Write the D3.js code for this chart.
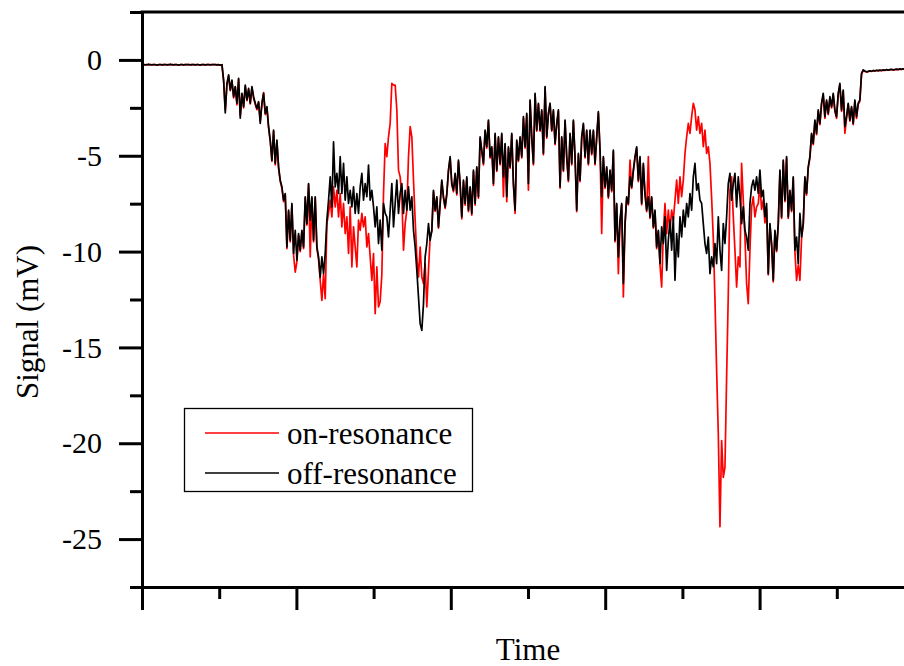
<!DOCTYPE html>
<html>
<head>
<meta charset="utf-8">
<script src="https://cdn.jsdelivr.net/npm/d3@7"></script>
<style>
  html, body { margin: 0; padding: 0; background: #fff; }
  svg { display: block; }
  svg text { font-family: "Liberation Serif", "Times New Roman", "DejaVu Serif", serif; fill: #000; }
</style>
</head>
<body>
<svg id="chart" width="904" height="666"></svg>
<script>
// ---- data (uniformly sampled signal, x = sample index) ----
const seriesNames = ["on-resonance", "off-resonance"];
const seriesColors = ["#ff0000", "#000000"];

const offResonance = [
-0.25,-0.24,-0.26,-0.25,-0.23,-0.25,-0.26,-0.24,-0.25,-0.27,
-0.25,-0.24,-0.26,-0.25,-0.24,-0.26,-0.25,-0.23,-0.25,-0.26,
-0.24,-0.25,-0.27,-0.25,-0.24,-0.26,-0.25,-0.24,-0.25,-0.26,
-0.25,-0.24,-0.26,-0.25,-0.25,-0.27,-0.24,-0.25,-0.26,-0.25,
-0.24,-0.26,-0.25,-0.25,-0.24,-0.26,-0.25,-0.27,-0.25,-1.05,
-2.77,-1.22,-0.78,-1.57,-1.05,-1.92,-1.39,-2.26,-0.96,-3.04,
-1.74,-2.44,-1.31,-2.09,-1.48,-2.26,-1.39,-1.92,-2.26,-2.53,
-2.18,-3.31,-2.26,-1.74,-2.79,-2.44,-3.48,-4.18,-5.23,-3.66,
-5.40,-4.18,-5.58,-6.27,-6.62,-7.32,-6.97,-9.76,-7.84,-9.41,
-7.49,-10.10,-8.89,-10.45,-9.06,-9.93,-8.89,-9.76,-7.14,-8.54,
-6.45,-8.36,-7.14,-9.41,-7.14,-9.76,-10.28,-11.33,-10.28,-11.15,
-10.10,-8.36,-7.32,-6.10,-7.67,-4.27,-6.62,-5.92,-6.97,-5.05,
-6.97,-5.40,-7.32,-6.10,-7.49,-6.80,-7.67,-6.62,-8.01,-6.97,
-8.01,-6.62,-5.92,-7.32,-6.45,-7.14,-5.49,-7.32,-6.80,-7.67,
-8.71,-7.67,-9.58,-8.36,-9.93,-7.49,-8.01,-8.19,-9.24,-7.84,
-6.45,-8.71,-7.49,-6.27,-8.01,-6.97,-6.45,-8.01,-6.80,-7.84,
-6.62,-7.84,-7.14,-8.89,-9.76,-10.98,-12.37,-13.76,-14.11,-12.72,
-10.28,-9.58,-8.54,-9.41,-8.89,-6.80,-7.84,-7.14,-8.71,-7.49,
-6.27,-7.14,-7.67,-6.97,-5.75,-5.05,-6.45,-6.80,-5.92,-6.97,
-5.23,-6.45,-8.19,-6.27,-7.49,-6.10,-7.84,-6.62,-8.01,-5.75,
-7.49,-5.58,-7.14,-4.01,-4.70,-5.40,-3.66,-4.53,-3.14,-5.05,
-4.53,-6.45,-3.83,-5.75,-4.01,-5.40,-3.83,-6.10,-4.36,-7.14,
-4.53,-5.58,-3.83,-6.45,-7.84,-4.18,-5.23,-4.01,-5.05,-2.96,
-4.53,-2.79,-6.45,-2.09,-4.01,-5.40,-1.74,-3.66,-2.26,-3.66,
-2.61,-4.88,-1.39,-4.01,-2.79,-2.26,-3.66,-2.61,-4.36,-3.31,
-2.61,-6.62,-4.01,-5.75,-3.14,-5.05,-6.27,-3.83,-5.40,-3.14,
-5.05,-7.84,-4.88,-6.27,-4.01,-3.31,-5.05,-3.66,-5.40,-3.66,
-4.88,-3.66,-5.40,-4.01,-2.70,-4.70,-7.14,-5.05,-6.62,-5.58,
-7.14,-5.75,-6.80,-4.70,-9.41,-7.49,-10.28,-8.36,-7.49,-11.67,
-8.54,-7.14,-7.49,-6.10,-6.62,-5.75,-5.05,-4.53,-6.27,-5.05,
-7.49,-5.40,-6.97,-7.84,-7.14,-8.19,-7.14,-8.71,-7.84,-9.76,
-8.89,-10.63,-8.71,-9.58,-8.19,-10.98,-9.41,-8.36,-9.93,-8.19,
-11.50,-9.06,-10.28,-8.19,-9.24,-7.84,-8.71,-7.49,-8.19,-6.97,
-7.84,-6.10,-5.40,-6.80,-6.45,-7.32,-7.49,-8.54,-9.58,-10.10,
-9.24,-11.15,-10.28,-10.80,-9.58,-10.63,-8.19,-9.93,-10.98,-8.54,
-9.58,-8.19,-6.45,-5.92,-7.32,-6.45,-5.92,-7.67,-6.10,-7.14,
-8.54,-7.67,-8.89,-9.24,-9.93,-7.49,-6.62,-6.27,-6.80,-6.10,
-6.97,-5.75,-7.14,-6.80,-8.19,-7.49,-11.15,-8.54,-9.58,-11.50,
-8.89,-9.93,-8.54,-5.75,-8.19,-5.23,-7.32,-5.05,-8.19,-6.80,
-7.84,-6.10,-9.93,-9.24,-10.63,-8.01,-9.24,-8.54,-6.10,-6.97,
-5.58,-5.05,-3.83,-4.36,-3.14,-3.83,-2.61,-3.31,-2.26,-1.74,
-2.96,-2.09,-2.79,-1.92,-2.44,-1.74,-2.61,-2.96,-1.74,-1.22,
-2.61,-1.57,-3.48,-2.96,-2.26,-3.14,-2.44,-3.31,-2.09,-2.96,
-2.26,-2.09,-0.70,-0.52,-0.58,-0.62,-0.60,-0.57,-0.59,-0.55,
-0.57,-0.54,-0.56,-0.53,-0.55,-0.52,-0.54,-0.50,-0.53,-0.51,
-0.49,-0.52,-0.50,-0.48,-0.50,-0.47,-0.49,-0.46,-0.48,-0.45,
-0.47,-0.44,-0.46,-0.45
];

const onResonance = [
-0.25,-0.24,-0.26,-0.25,-0.23,-0.25,-0.26,-0.24,-0.25,-0.27,
-0.25,-0.24,-0.26,-0.25,-0.24,-0.26,-0.25,-0.23,-0.25,-0.26,
-0.24,-0.25,-0.27,-0.25,-0.24,-0.26,-0.25,-0.24,-0.25,-0.26,
-0.25,-0.24,-0.26,-0.25,-0.25,-0.27,-0.24,-0.25,-0.26,-0.25,
-0.24,-0.26,-0.25,-0.25,-0.24,-0.26,-0.25,-0.27,-0.25,-1.10,
-2.60,-1.30,-0.85,-1.60,-1.10,-1.98,-1.42,-2.35,-1.02,-2.90,
-1.80,-2.50,-1.36,-2.12,-1.55,-2.30,-1.45,-2.00,-2.32,-2.60,
-2.22,-3.20,-2.30,-1.70,-2.85,-2.50,-3.55,-4.25,-5.30,-3.72,
-5.48,-4.25,-5.66,-6.34,-6.70,-7.40,-7.05,-9.85,-7.90,-9.50,
-7.56,-10.18,-11.07,-10.52,-9.15,-10.00,-8.95,-9.85,-7.20,-8.62,
-6.52,-10.28,-7.22,-9.50,-7.20,-9.85,-10.40,-11.50,-12.55,-11.20,
-12.46,-8.54,-8.01,-7.32,-8.19,-6.62,-7.67,-6.80,-8.19,-6.97,
-8.71,-7.49,-9.06,-8.19,-10.10,-7.67,-10.80,-8.71,-9.76,-10.80,
-8.36,-8.89,-8.01,-8.71,-8.19,-9.76,-9.06,-10.28,-11.50,-10.10,
-13.24,-10.80,-12.89,-12.60,-11.20,-7.00,-4.36,-5.05,-4.01,-3.31,
-1.22,-1.31,-1.31,-2.61,-5.75,-6.10,-7.14,-9.93,-8.54,-7.84,
-5.05,-3.48,-4.01,-6.27,-8.36,-10.28,-11.33,-9.76,-11.33,-11.67,
-10.63,-12.89,-10.98,-9.24,-8.95,-6.88,-7.90,-7.20,-8.78,-7.55,
-6.33,-7.20,-7.75,-7.05,-5.82,-5.12,-6.52,-6.88,-6.00,-7.05,
-5.30,-6.52,-8.30,-6.35,-7.58,-6.18,-7.92,-6.70,-8.10,-5.82,
-7.58,-5.65,-7.22,-4.10,-4.78,-5.48,-3.72,-4.60,-3.20,-5.12,
-4.60,-6.55,-3.90,-5.82,-4.08,-5.48,-3.90,-7.14,-4.42,-7.40,
-4.60,-5.65,-3.90,-6.52,-8.01,-4.25,-5.30,-4.08,-5.12,-3.05,
-4.60,-2.86,-6.80,-2.16,-4.08,-5.48,-1.82,-3.72,-2.32,-3.72,
-2.68,-4.95,-1.46,-4.08,-2.86,-2.32,-3.72,-2.68,-4.42,-3.38,
-2.68,-6.70,-4.08,-5.82,-3.20,-5.12,-6.35,-3.90,-5.48,-3.20,
-5.12,-7.92,-4.95,-6.35,-4.08,-3.38,-5.12,-3.72,-5.48,-3.72,
-4.95,-3.72,-5.48,-4.08,-2.78,-4.78,-9.06,-5.12,-6.70,-5.65,
-7.22,-5.82,-6.88,-4.78,-9.50,-7.56,-11.15,-8.45,-7.56,-12.37,
-8.62,-7.22,-7.56,-5.23,-6.70,-5.82,-5.12,-4.60,-6.35,-5.12,
-7.56,-5.48,-7.05,-7.92,-5.05,-8.27,-7.22,-8.78,-7.92,-9.85,
-8.95,-10.70,-11.85,-9.00,-7.49,-9.06,-7.84,-8.89,-7.84,-8.36,
-7.32,-6.27,-7.49,-6.10,-7.14,-6.27,-4.88,-4.01,-3.31,-3.83,
-2.96,-2.26,-2.61,-3.66,-2.96,-3.83,-3.31,-4.53,-3.66,-4.88,
-4.53,-5.40,-7.20,-9.30,-12.50,-16.20,-19.50,-24.35,-19.86,-21.78,
-21.26,-16.55,-12.20,-6.80,-6.10,-8.19,-9.93,-11.85,-10.28,-10.80,
-5.40,-7.32,-9.24,-11.67,-12.72,-9.93,-7.67,-7.14,-8.19,-7.67,
-7.50,-6.50,-7.80,-7.30,-8.50,-7.80,-11.22,-8.62,-9.66,-11.58,
-8.96,-10.00,-8.62,-5.82,-8.27,-5.30,-7.40,-5.12,-8.27,-6.88,
-7.92,-6.18,-10.00,-11.50,-10.70,-11.50,-9.30,-8.62,-6.18,-7.05,
-5.65,-5.12,-3.90,-4.42,-3.20,-3.90,-2.68,-3.38,-2.32,-1.82,
-3.05,-2.16,-2.86,-2.00,-2.50,-1.82,-2.68,-3.05,-1.82,-1.30,
-2.68,-1.65,-3.83,-3.05,-2.32,-3.20,-2.50,-3.38,-2.16,-3.05,
-2.32,-2.16,-0.75,-0.55,-0.60,-0.63,-0.61,-0.58,-0.60,-0.56,
-0.58,-0.55,-0.57,-0.54,-0.56,-0.53,-0.55,-0.51,-0.54,-0.52,
-0.50,-0.53,-0.51,-0.49,-0.51,-0.48,-0.50,-0.47,-0.49,-0.46,
-0.48,-0.45,-0.47,-0.46
];

const yMajorTicks = [0, -5, -10, -15, -20, -25];
const yMinorTicks = [2.5, -2.5, -7.5, -12.5, -17.5, -22.5, -27.5];
const xMajorTicks = [0, 92.7, 185.4, 278.1, 370.8];
const xMinorTicks = [46.35, 139.05, 231.75, 324.45, 417.15];
const xTitle = "Time";
const yTitle = "Signal (mV)";

// ---- layout ----
const W = 904, H = 666;
const FONT = "'Liberation Serif', 'Times New Roman', serif";
const margin = { left: 142, top: 12, right: 914, bottom: 587 };
const svg = d3.select("#chart");
svg.append("rect").attr("width", W).attr("height", H).attr("fill", "#fff");

const x = d3.scaleLinear().domain([0, 463.5]).range([margin.left, margin.right]);
const y = d3.scaleLinear().domain([-27.5, 2.5]).range([margin.bottom, margin.top]);

svg.append("defs").append("clipPath").attr("id", "plotclip")
  .append("rect").attr("x", margin.left).attr("y", margin.top)
  .attr("width", margin.right - margin.left).attr("height", margin.bottom - margin.top);

// ---- data lines ----
const line = d3.line().x((d, i) => x(i)).y(d => y(d));
const plot = svg.append("g").attr("clip-path", "url(#plotclip)");
[onResonance, offResonance].forEach((s, i) => {
  plot.append("path").datum(s)
    .attr("d", line)
    .attr("fill", "none")
    .attr("stroke", seriesColors[i])
    .attr("stroke-width", 1.7)
    .attr("stroke-linejoin", "round");
});

// ---- axes ----
const axisStyle = g => {
  g.attr("font-family", FONT);
  g.selectAll(".domain").attr("stroke", "#000").attr("stroke-width", 3);
  g.selectAll(".tick line").attr("stroke", "#000").attr("stroke-width", 3);
};

// left axis
svg.append("g").attr("transform", `translate(${margin.left},0)`)
  .call(d3.axisLeft(y).tickValues(yMinorTicks).tickSize(12).tickSizeOuter(0).tickFormat(""))
  .call(axisStyle);
const yAx = svg.append("g").attr("transform", `translate(${margin.left},0)`)
  .call(d3.axisLeft(y).tickValues(yMajorTicks).tickSize(23).tickSizeOuter(0).tickPadding(17)
    .tickFormat(d => String(d)))
  .call(axisStyle);
yAx.selectAll(".tick text").attr("font-size", 30)
  .attr("font-family", FONT).attr("fill", "#000");

// bottom axis
svg.append("g").attr("transform", `translate(0,${margin.bottom})`)
  .call(d3.axisBottom(x).tickValues(xMinorTicks).tickSize(12).tickSizeOuter(0).tickFormat(""))
  .call(axisStyle);
svg.append("g").attr("transform", `translate(0,${margin.bottom})`)
  .call(d3.axisBottom(x).tickValues(xMajorTicks).tickSize(23).tickSizeOuter(0).tickFormat(""))
  .call(axisStyle);

// top border
svg.append("line")
  .attr("x1", margin.left - 1.5).attr("x2", margin.right)
  .attr("y1", margin.top).attr("y2", margin.top)
  .attr("stroke", "#000").attr("stroke-width", 3);

// ---- titles ----
svg.append("text").attr("x", 528).attr("y", 660)
  .attr("text-anchor", "middle").attr("font-family", FONT).attr("font-size", 31).text(xTitle);
svg.append("text").attr("transform", "translate(38,322) rotate(-90)")
  .attr("text-anchor", "middle").attr("font-family", FONT).attr("font-size", 31).text(yTitle);

// ---- legend ----
const lg = svg.append("g");
lg.append("rect").attr("x", 184.5).attr("y", 408.5).attr("width", 288).attr("height", 83)
  .attr("fill", "#fff").attr("stroke", "#000").attr("stroke-width", 1.3);
seriesNames.forEach((name, i) => {
  const cy = 433 + i * 40;
  lg.append("line").attr("x1", 205).attr("x2", 279).attr("y1", cy).attr("y2", cy)
    .attr("stroke", seriesColors[i]).attr("stroke-width", 1.4);
  lg.append("text").attr("x", 287).attr("y", cy + 10.5)
    .attr("font-family", FONT).attr("font-size", 31).text(name);
});
</script>
</body>
</html>
